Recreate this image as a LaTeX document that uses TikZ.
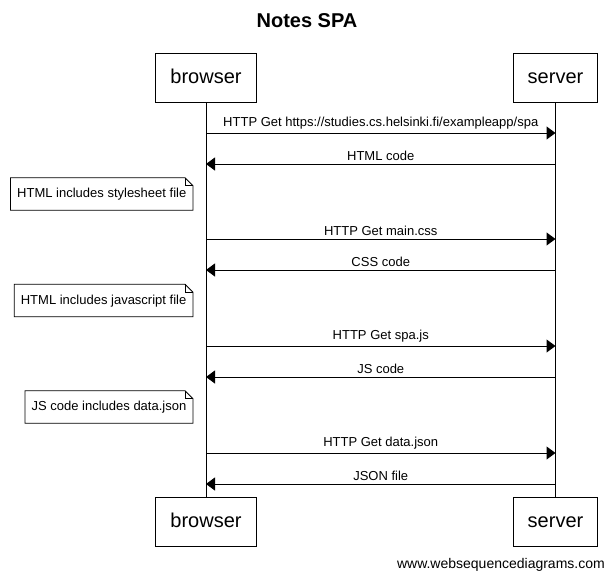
\documentclass[tikz,border=0pt]{standalone}
\usepackage{fontspec}
\setmainfont{Liberation Sans}
\usetikzlibrary{arrows.meta}
\begin{document}
\begin{tikzpicture}[x=1pt,y=-1pt,
  every node/.style={font=\fontsize{13}{15}\selectfont},
  actor/.style={draw, line width=1pt, minimum height=49pt, inner xsep=14.5pt, inner ysep=0pt, text height=14.5pt, text depth=2pt, font=\fontsize{20}{24}\selectfont},
  life/.style={line width=1pt},
  msg/.style={line width=1pt, -{Triangle[length=9pt,width=13pt]}},
  lbl/.style={anchor=base, inner sep=0pt},
  notebox/.style={anchor=east, minimum height=32pt, inner xsep=6.5pt, inner ysep=0pt, text height=9.5pt, text depth=2pt},
  fold/.style={line width=0.8pt}
]
\useasboundingbox (0,0) rectangle (613,581);
\node[font=\bfseries\fontsize{20}{24}\selectfont] (title) at (307,21) {Notes SPA};
\node[actor] (bt) at (206,77.5) {browser};
\node[actor] (st) at (555.5,77.5) {server};
\node[actor] (bb) at (206,521.5) {browser};
\node[actor] (sb) at (555.5,521.5) {server};
\draw[life] (bt.south) -- (bb.north);
\draw[life] (st.south) -- (sb.north);
% message anchor points on the lifelines
\foreach \i/\y in {1/133,2/164,3/239,4/270,5/346,6/377,7/453,8/484}{
  \coordinate (mb\i) at (206,\y);
  \coordinate (ms\i) at (555.5,\y);
}
\draw[msg] (mb1) -- (ms1) node[lbl, midway, above=3pt] {HTTP Get https://studies.cs.helsinki.fi/exampleapp/spa};
\draw[msg] (ms2) -- (mb2) node[lbl, midway, above=3pt] {HTML code};
\draw[msg] (mb3) -- (ms3) node[lbl, midway, above=3pt] {HTTP Get main.css};
\draw[msg] (ms4) -- (mb4) node[lbl, midway, above=3pt] {CSS code};
\draw[msg] (mb5) -- (ms5) node[lbl, midway, above=3pt] {HTTP Get spa.js};
\draw[msg] (ms6) -- (mb6) node[lbl, midway, above=3pt] {JS code};
\draw[msg] (mb7) -- (ms7) node[lbl, midway, above=3pt] {HTTP Get data.json};
\draw[msg] (ms8) -- (mb8) node[lbl, midway, above=3pt] {JSON file};
% notes
\node[notebox] (n1) at (193,194) {HTML includes stylesheet file};
\node[notebox] (n2) at (193,300.5) {HTML includes javascript file};
\node[notebox] (n3) at (193,407) {JS code includes data.json};
\foreach \n in {n1,n2,n3}{
  \draw[fold] (\n.north west) -- ([xshift=-8pt]\n.north east) -- ([yshift=-8pt]\n.north east) -- (\n.south east) -- (\n.south west) -- cycle;
  \draw[fold] ([xshift=-8pt]\n.north east) -- ([xshift=-8pt,yshift=-8pt]\n.north east) -- ([yshift=-8pt]\n.north east);
}
\node[anchor=east, inner sep=0pt, font=\fontsize{14}{16}\selectfont] (wm) at (605,565) {www.websequencediagrams.com};
\end{tikzpicture}
\end{document}
